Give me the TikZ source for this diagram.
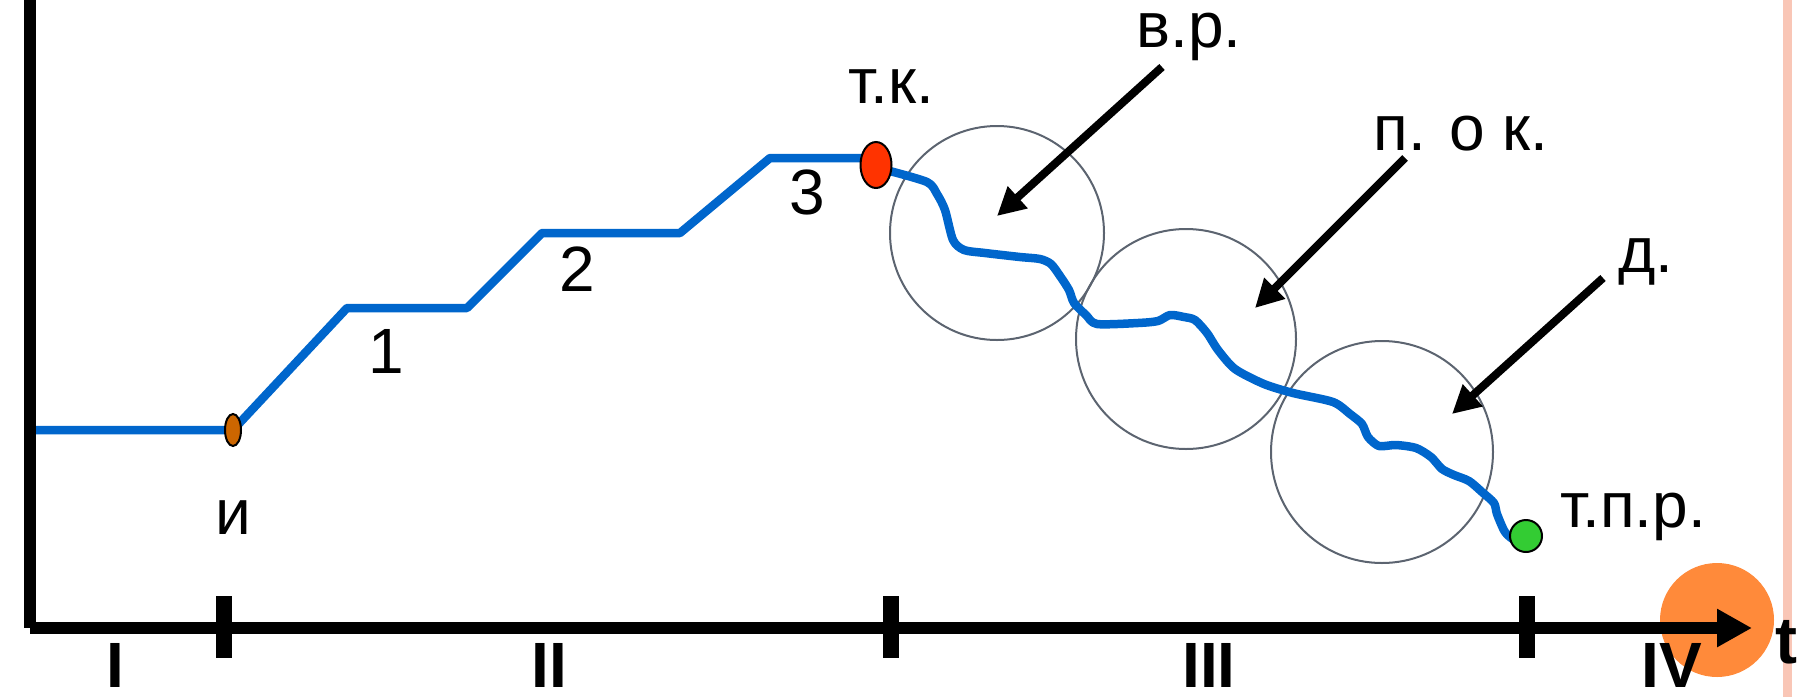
\documentclass[tikz,border=0pt]{standalone}
\usepackage{fontspec}
\setmainfont{Liberation Sans}
\usetikzlibrary{arrows.meta,shapes.geometric}
\definecolor{lineblue}{HTML}{0066CC}
\definecolor{ringgray}{HTML}{5C6470}
\definecolor{dotorange}{HTML}{CC6600}
\definecolor{dotred}{HTML}{FF3300}
\definecolor{dotgreen}{HTML}{33CC33}
\definecolor{bigorange}{HTML}{FF8A3A}
\definecolor{stripe}{HTML}{F9C6B6}
\tikzset{
  lbl/.style={font=\fontsize{64}{64}\selectfont, inner sep=0pt, anchor=base},
  roman/.style={font=\fontsize{64}{64}\selectfont\bfseries, inner sep=0pt, anchor=north},
  axisline/.style={line width=12pt, line cap=butt},
  tickmark/.style={line width=16pt, line cap=butt},
  pathline/.style={line width=8.5pt, lineblue, line join=round},
  ring/.style={draw=ringgray, line width=2pt},
  pointer/.style={line width=8pt, -{Triangle[length=28pt,width=28pt]}},
  dotstyle/.style={draw=black, line width=2pt},
}
\begin{document}
\begin{tikzpicture}[x=1pt,y=-1pt]
\useasboundingbox (0,0) rectangle (1802,697);
% right stripe
\fill[stripe] (1783,0) rectangle (1792,697);
% big orange disc
\fill[bigorange] (1717,620) circle (57);
% axes
\coordinate (ytop) at (30,0);
\coordinate (origin) at (30,628);
\coordinate (xend) at (1752,628);
\draw[axisline] (ytop) -- (30,628);
\draw[axisline, -{Triangle[length=35pt,width=36pt]}] (origin) -- (xend);
% ticks
\coordinate (t1a) at (224,596); \coordinate (t1b) at (224,658);
\coordinate (t2a) at (891,596); \coordinate (t2b) at (891,658);
\coordinate (t3a) at (1527,596); \coordinate (t3b) at (1527,658);
\draw[tickmark] (t1a) -- (t1b);
\draw[tickmark] (t2a) -- (t2b);
\draw[tickmark] (t3a) -- (t3b);
% interval labels
\node[roman] (rI) at (115,643) {I};
\node[roman] (rII) at (549,643) {II};
\node[roman] (rIII) at (1209,643) {III};
\node[roman] (rIV) at (1672,643) {IV};
\node[font=\fontsize{66}{66}\selectfont\bfseries, inner sep=0pt, anchor=base] (tl) at (1786,663) {t};
% rings
\node[ring, circle, minimum size=214pt, inner sep=0pt] (c1) at (997,233) {};
\node[ring, circle, minimum size=220pt, inner sep=0pt] (c2) at (1186,339) {};
\node[ring, circle, minimum size=222pt, inner sep=0pt] (c3) at (1382,452) {};
% blue staircase
\coordinate (start) at (36,430);
\draw[pathline] (start) -- (233,430) -- (347,308) -- (467,308) -- (542,233) -- (680,233) -- (770,158) -- (876,158);
% wavy part
\draw[pathline] plot[smooth, tension=0.45] coordinates {
 (886,170) (927,182) (937,194) (945,210) (953,240) (964,250) (985,253) (1020,257) (1040,259) (1051,264)
 (1060,276) (1069,290) (1074,303) (1086,315) (1097,324) (1138,323) (1158,321) (1170,315) (1184,317) (1195,320)
 (1207,333) (1218,350) (1235,369) (1264,384) (1293,393) (1333,402) (1350,414) (1362,424) (1368,437) (1379,446)
 (1396,445) (1416,448) (1431,457) (1442,469) (1454,475) (1469,481) (1482,492) (1494,503) (1497,514) (1505,532)
 (1515,540) (1526,536)};
% dots
\node[dotstyle, fill=dotorange, ellipse, minimum width=16pt, minimum height=32pt, inner sep=0pt] (pI) at (233,430) {};
\node[dotstyle, fill=dotred, ellipse, minimum width=31pt, minimum height=46pt, inner sep=0pt] (pK) at (876,165) {};
\node[dotstyle, fill=dotgreen, circle, minimum size=32pt, inner sep=0pt] (pE) at (1526,536) {};
% labels
\node[lbl] (li) at (233,534) {и};
\node[lbl] (l1) at (386,373) {1};
\node[lbl] (l2) at (577,291) {2};
\node[lbl] (l3) at (807,214) {3};
\node[lbl] (ltk) at (891,103) {т.к.};
\node[lbl] (lvr) at (1189,47) {в.р.};
\node[lbl] (lpok) at (1461,150) {п. о к.};
\node[lbl] (ld) at (1646,272) {д.};
\node[lbl] (ltpr) at (1633,527) {т.п.р.};
% pointers
\coordinate (a1s) at (1162,67); \coordinate (a1e) at (997,216);
\coordinate (a2s) at (1405,158); \coordinate (a2e) at (1255,308);
\coordinate (a3s) at (1603,278); \coordinate (a3e) at (1452,414);
\draw[pointer] (a1s) -- (a1e);
\draw[pointer] (a2s) -- (a2e);
\draw[pointer] (a3s) -- (a3e);
\end{tikzpicture}
\end{document}
